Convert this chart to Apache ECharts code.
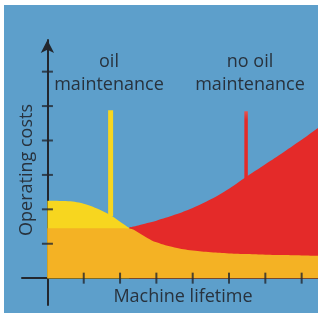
<!DOCTYPE html>
<html>
<head>
<meta charset="utf-8">
<script src="https://cdn.jsdelivr.net/npm/echarts@6/dist/echarts.min.js"></script>
<style>
  html, body { margin: 0; padding: 0; background: #fff; }
  #chart { position: absolute; left: 4px; top: 5px; width: 314px; height: 308px; }
</style>
</head>
<body>
<div id="chart"></div>
<script>
// machine lifetime (x units) and cost curves
var lifetime  = [0, 0.5, 1, 1.5, 1.75, 2, 2.25, 2.5, 2.75, 3, 3.5, 4, 4.5, 5, 5.5, 6, 6.5, 7, 7.5];
var baseCost  = [1.45, 1.45, 1.45, 1.45, 1.45, 1.45, 1.44, 1.33, 1.17, 1.04, 0.89, 0.80, 0.75, 0.72, 0.70, 0.68, 0.67, 0.66, 0.65];
var oilCost   = [2.25, 2.24, 2.16, 1.96, 1.82, 1.64, 1.46, null, null, null, null, null, null, null, null, null, null, null, null];
var noOilCost = [null, null, null, null, null, null, 1.47, 1.53, 1.60, 1.67, 1.84, 2.04, 2.29, 2.60, 2.96, 3.31, 3.66, 4.02, 4.40];

// the two marker posts: position and top
var markerX = [1.74, 5.47];
var markerTop = [4.88, 4.85];

var xTicks = [1, 2, 3, 4, 5, 6, 7];
var yTicks = [1, 2, 3, 4, 5, 6];

var BLUE = '#5d9fcb', ORANGE = '#f4b224', YELLOW = '#f7d61f', RED = '#e42a29', INK = '#23272e', TEXT = '#28323d';
var FONT = '"Open Sans", "Noto Sans", sans-serif';

function pairs(ys) {
  return lifetime.map(function (x, i) { return [x, ys[i]]; });
}

var myChart = echarts.init(document.getElementById('chart'));

var option = {
  backgroundColor: BLUE,
  animation: false,
  grid: { left: 18, right: 0, top: 35, bottom: 8 },
  xAxis: {
    type: 'value', min: -0.7, max: 7.45,
    splitLine: { show: false }, axisLabel: { show: false }, axisTick: { show: false },
    axisLine: { onZero: true, lineStyle: { color: INK, width: 2 } }
  },
  yAxis: {
    type: 'value', min: -0.78, max: 6.92,
    splitLine: { show: false }, axisLabel: { show: false }, axisTick: { show: false },
    axisLine: {
      onZero: true, symbol: ['none', 'arrow'], symbolSize: [10, 13],
      lineStyle: { color: INK, width: 2 }
    }
  },
  series: [
    {
      type: 'line', name: 'oil post',
      data: [[markerX[0], 1.8], [markerX[0], markerTop[0]]],
      symbol: 'none', lineStyle: { color: YELLOW, width: 5, cap: 'butt' }
    },
    {
      type: 'line', name: 'no oil post',
      data: [[markerX[1], 2.8], [markerX[1], markerTop[1]]],
      symbol: 'none',
      lineStyle: {
        width: 3.5, cap: 'butt',
        color: new echarts.graphic.LinearGradient(0, 0, 0, 1, [
          { offset: 0, color: '#e8605a' },
          { offset: 0.15, color: RED },
          { offset: 1, color: RED }
        ])
      }
    },
    {
      type: 'line', name: 'no oil maintenance',
      data: pairs(noOilCost), smooth: 0.4, symbol: 'none',
      lineStyle: { width: 0 }, areaStyle: { color: RED, opacity: 1 }
    },
    {
      type: 'line', name: 'oil maintenance',
      data: pairs(oilCost), smooth: 0.4, symbol: 'none',
      lineStyle: { width: 0 }, areaStyle: { color: YELLOW, opacity: 1 }
    },
    {
      type: 'line', name: 'base',
      data: pairs(baseCost), smooth: 0.4, symbol: 'none',
      lineStyle: { width: 0 }, areaStyle: { color: ORANGE, opacity: 1 }
    },
    {
      // tick marks crossing the x axis
      type: 'scatter', z: 5, silent: true,
      data: xTicks.map(function (t) { return [t, 0]; }),
      symbol: 'rect', symbolSize: [2, 11], itemStyle: { color: INK }
    },
    {
      // tick marks crossing the y axis
      type: 'scatter', z: 5, silent: true,
      data: yTicks.map(function (t) { return [0, t]; }),
      symbol: 'rect', symbolSize: [11, 2], itemStyle: { color: INK }
    }
  ],
  graphic: [
    {
      type: 'text', x: 105, y: 68,
      style: { text: 'oil\nmaintenance', align: 'center', verticalAlign: 'middle', fill: TEXT, font: '18px ' + FONT, lineHeight: 23 }
    },
    {
      type: 'text', x: 246, y: 68,
      style: { text: 'no oil\nmaintenance', align: 'center', verticalAlign: 'middle', fill: TEXT, font: '18px ' + FONT, lineHeight: 23 }
    },
    {
      type: 'text', x: 23, y: 165, rotation: Math.PI / 2,
      style: { text: 'Operating costs', align: 'center', verticalAlign: 'middle', fill: TEXT, font: '18px ' + FONT }
    },
    {
      type: 'text', x: 179, y: 292,
      style: { text: 'Machine lifetime', align: 'center', verticalAlign: 'middle', fill: TEXT, font: '18px ' + FONT }
    }
  ]
};

myChart.setOption(option);
</script>
</body>
</html>
